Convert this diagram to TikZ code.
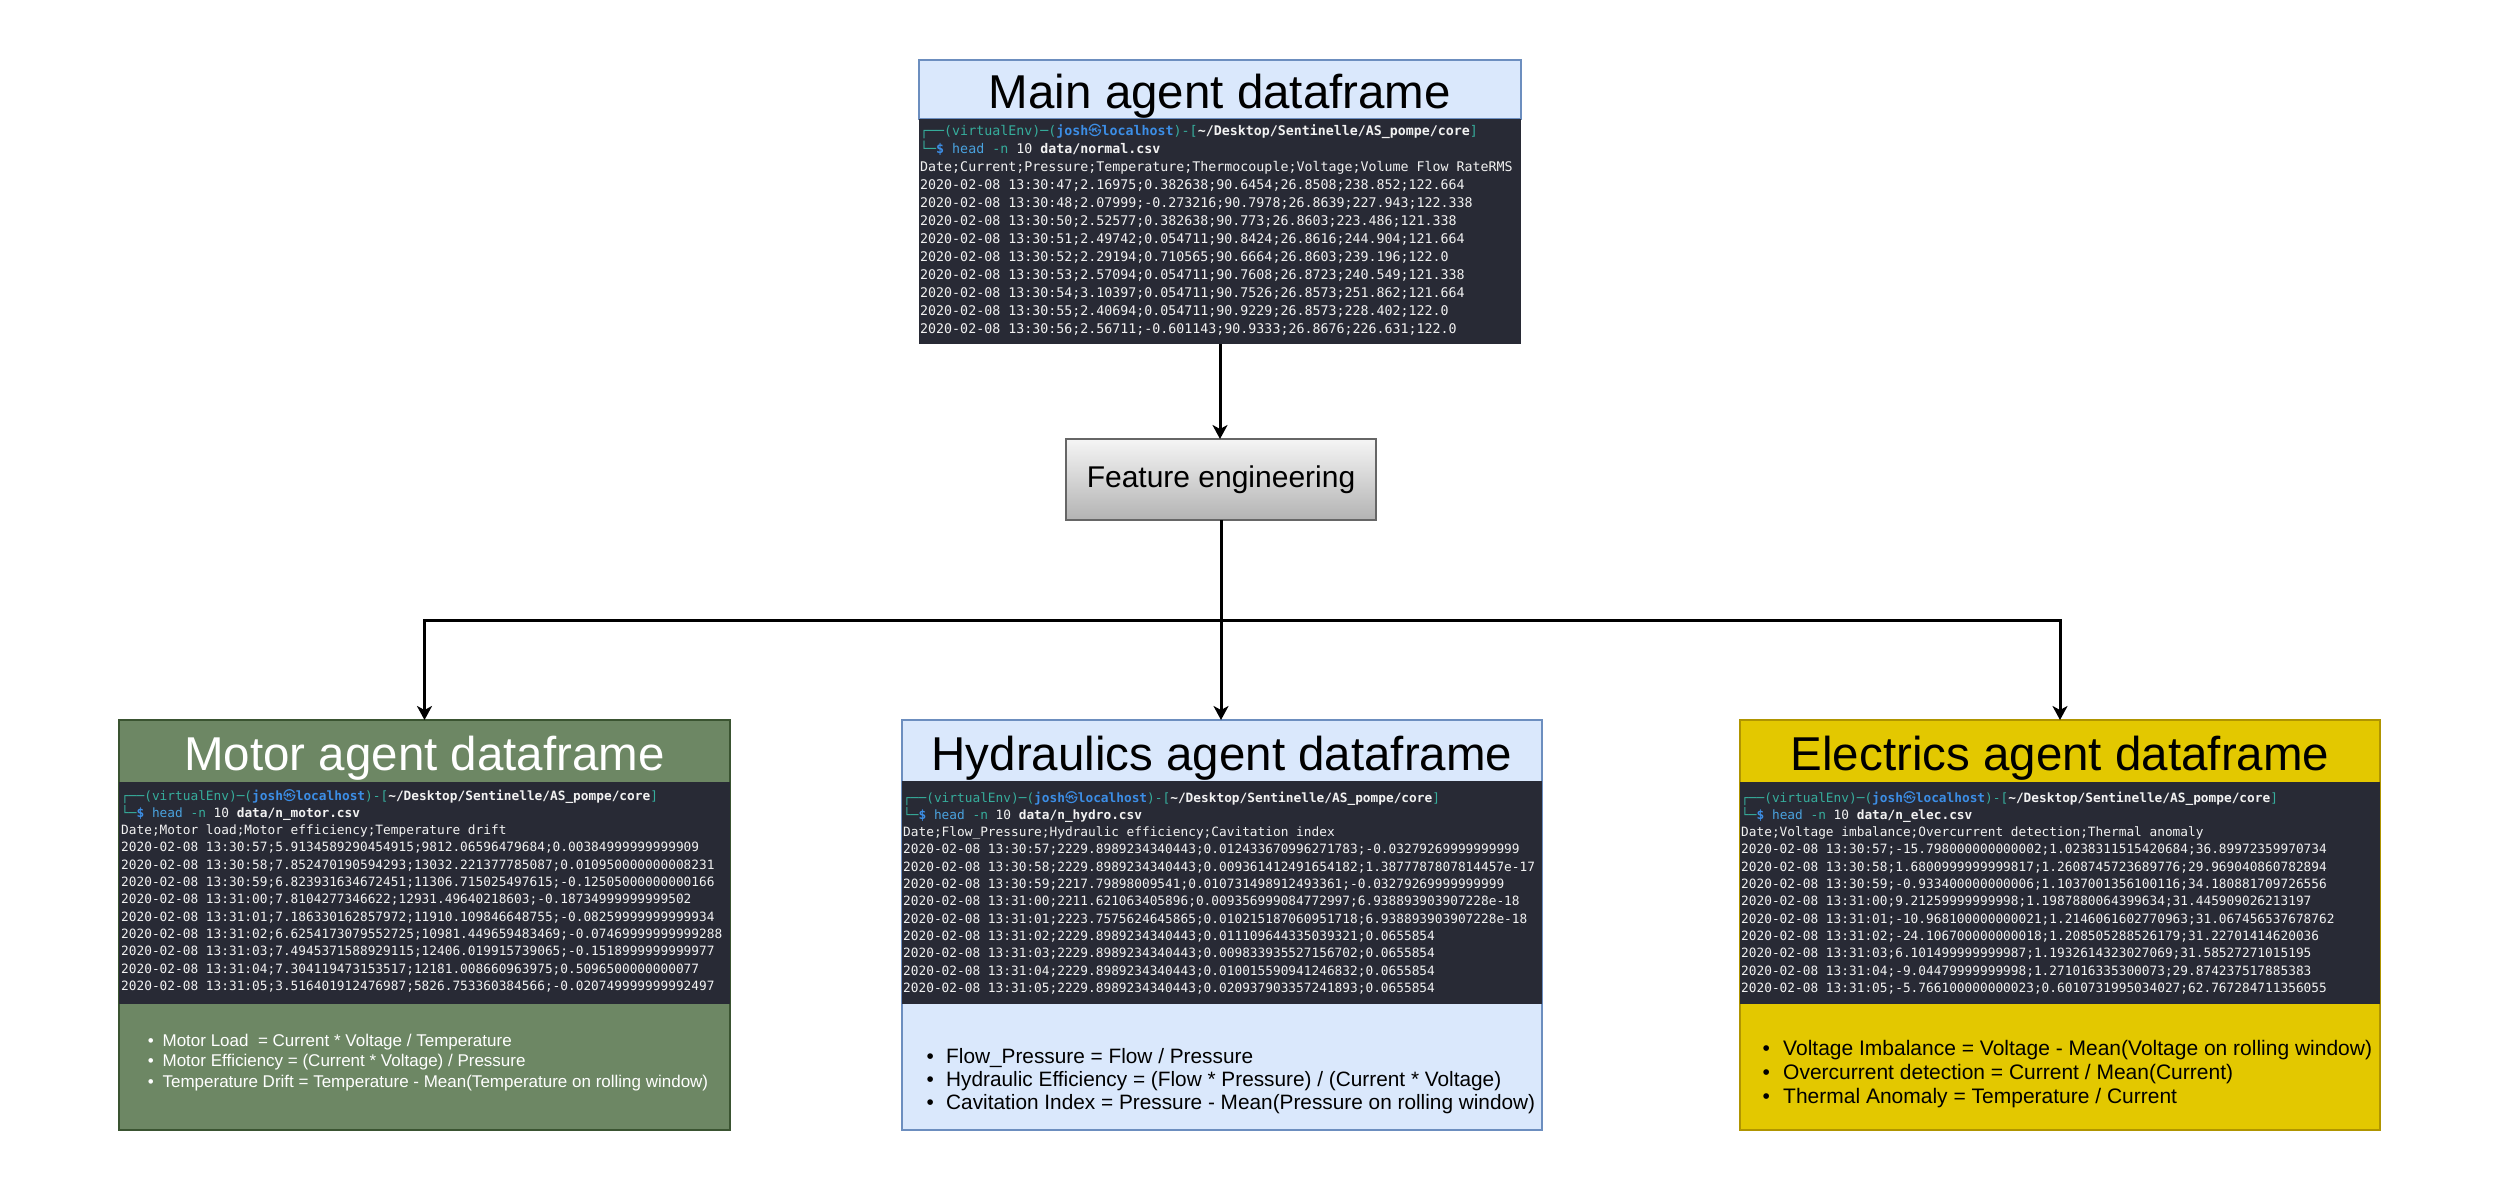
\documentclass[tikz,border=0pt]{standalone}
\usepackage{fontspec}
\setmainfont{Liberation Sans}
\setmonofont{DejaVu Sans Mono}
\newfontfamily\cjkfont{Noto Sans CJK KR}
\usetikzlibrary{arrows.meta}
\definecolor{bluefill}{HTML}{DAE8FC}
\definecolor{bluestroke}{HTML}{6C8EBF}
\definecolor{greenfill}{HTML}{6D8764}
\definecolor{greenstroke}{HTML}{3A5431}
\definecolor{yellowfill}{HTML}{E3C800}
\definecolor{yellowstroke}{HTML}{B09500}
\definecolor{termbg}{HTML}{282A35}
\definecolor{termfg}{HTML}{F2F2F2}
\definecolor{tteal}{HTML}{36AD9C}
\definecolor{tblue}{HTML}{3C8EE6}
\definecolor{tlblue}{HTML}{4AA3DF}
\definecolor{fetop}{HTML}{F5F5F5}
\definecolor{febot}{HTML}{B3B3B3}
\definecolor{festroke}{HTML}{666666}

\newcommand\promptlines[1]{%
\textcolor{tteal}{┌──(virtualEnv)─(}\textcolor{tblue}{\bfseries josh{\cjkfont\mdseries ㉿}localhost}\textcolor{tteal}{)-[}{\bfseries\textasciitilde/Desktop/Sentinelle/AS\_pompe/core}\textcolor{tteal}{]}\\
\textcolor{tteal}{└─}\textcolor{tblue}{\bfseries\$} \textcolor{tlblue}{head} \textcolor{tteal}{-n} 10 {\bfseries data/#1}}
\newcommand\bul[1]{\makebox[#1][l]{\textbullet}}

\begin{document}
\begin{tikzpicture}[x=1pt,y=-1pt,
  boxbase/.style={rectangle,inner sep=0pt,outer sep=0pt,anchor=north west,line width=1.5pt},
  termbox/.style={rectangle,inner sep=0pt,outer sep=0pt,anchor=north west,fill=termbg},
  termtext/.style={anchor=base west,inner sep=0pt,text=termfg,font=\ttfamily},
  titletext/.style={anchor=base,inner sep=0pt,font=\fontsize{47.5}{50}\selectfont},
  bullettext/.style={anchor=base west,inner sep=0pt},
  conn/.style={line width=3pt,-{Stealth[length=14pt,width=15pt,inset=4pt]}}]
\useasboundingbox[fill=white] (0,0) rectangle (2498,1192);

% Main agent dataframe
\node[boxbase,fill=bluefill,draw=bluestroke,minimum width=602pt,minimum height=59pt] (maintitle) at (919,60) {};
\node[titletext] (maintitletext) at (1220,108) {Main agent dataframe};
\node[termbox,minimum width=602pt,minimum height=225pt] (mainterm) at (919,119) {};
\node[termtext] (maintermtext) at (920,135) {\begin{minipage}[t]{700pt}\fontsize{13.3}{18}\selectfont\leavevmode
\promptlines{normal.csv}\\
Date;Current;Pressure;Temperature;Thermocouple;Voltage;Volume Flow RateRMS\\
2020-02-08 13:30:47;2.16975;0.382638;90.6454;26.8508;238.852;122.664\\
2020-02-08 13:30:48;2.07999;-0.273216;90.7978;26.8639;227.943;122.338\\
2020-02-08 13:30:50;2.52577;0.382638;90.773;26.8603;223.486;121.338\\
2020-02-08 13:30:51;2.49742;0.054711;90.8424;26.8616;244.904;121.664\\
2020-02-08 13:30:52;2.29194;0.710565;90.6664;26.8603;239.196;122.0\\
2020-02-08 13:30:53;2.57094;0.054711;90.7608;26.8723;240.549;121.338\\
2020-02-08 13:30:54;3.10397;0.054711;90.7526;26.8573;251.862;121.664\\
2020-02-08 13:30:55;2.40694;0.054711;90.9229;26.8573;228.402;122.0\\
2020-02-08 13:30:56;2.56711;-0.601143;90.9333;26.8676;226.631;122.0
\end{minipage}};

% Feature engineering
\node[rectangle,inner sep=0pt,outer sep=0pt,minimum width=310pt,minimum height=81pt,top color=fetop,bottom color=febot,draw=festroke,line width=1.5pt,font=\fontsize{30}{32}\selectfont] (fe) at (1221,479.5) {Feature engineering};

% Motor agent dataframe
\node[boxbase,fill=greenfill,draw=greenstroke,minimum width=611pt,minimum height=410pt] (motor) at (119,720) {};
\node[titletext,text=white] (motortitle) at (424.5,770) {Motor agent dataframe};
\node[termbox,minimum width=611pt,minimum height=222pt] (motorterm) at (119,782) {};
\node[termtext] (motortermtext) at (121,800) {\begin{minipage}[t]{700pt}\fontsize{12.8}{17.3}\selectfont\leavevmode
\promptlines{n\_motor.csv}\\
Date;Motor load;Motor efficiency;Temperature drift\\
2020-02-08 13:30:57;5.9134589290454915;9812.06596479684;0.00384999999999909\\
2020-02-08 13:30:58;7.852470190594293;13032.221377785087;0.010950000000008231\\
2020-02-08 13:30:59;6.823931634672451;11306.715025497615;-0.12505000000000166\\
2020-02-08 13:31:00;7.8104277346622;12931.49640218603;-0.18734999999999502\\
2020-02-08 13:31:01;7.186330162857972;11910.109846648755;-0.08259999999999934\\
2020-02-08 13:31:02;6.6254173079552725;10981.449659483469;-0.07469999999999288\\
2020-02-08 13:31:03;7.4945371588929115;12406.019915739065;-0.1518999999999977\\
2020-02-08 13:31:04;7.304119473153517;12181.008660963975;0.5096500000000077\\
2020-02-08 13:31:05;3.516401912476987;5826.753360384566;-0.020749999999992497
\end{minipage}};
\node[bullettext,text=white] (motorbullets) at (147.6,1046) {\begin{minipage}[t]{600pt}\fontsize{17}{20.5}\selectfont\leavevmode
\bul{14.8pt}Motor Load\ \ = Current * Voltage / Temperature\\
\bul{14.8pt}Motor Efficiency = (Current * Voltage) / Pressure\\
\bul{14.8pt}Temperature Drift = Temperature - Mean(Temperature on rolling window)
\end{minipage}};

% Hydraulics agent dataframe
\node[boxbase,fill=bluefill,draw=bluestroke,minimum width=640pt,minimum height=410pt] (hydro) at (902,720) {};
\node[titletext] (hydrotitle) at (1222,770) {Hydraulics agent dataframe};
\node[termbox,minimum width=640pt,minimum height=223pt] (hydroterm) at (902,781) {};
\node[termtext] (hydrotermtext) at (903,802) {\begin{minipage}[t]{700pt}\fontsize{12.8}{17.3}\selectfont\leavevmode
\promptlines{n\_hydro.csv}\\
Date;Flow\_Pressure;Hydraulic efficiency;Cavitation index\\
2020-02-08 13:30:57;2229.8989234340443;0.012433670996271783;-0.03279269999999999\\
2020-02-08 13:30:58;2229.8989234340443;0.009361412491654182;1.3877787807814457e-17\\
2020-02-08 13:30:59;2217.79898009541;0.010731498912493361;-0.03279269999999999\\
2020-02-08 13:31:00;2211.621063405896;0.009356999084772997;6.938893903907228e-18\\
2020-02-08 13:31:01;2223.7575624645865;0.010215187060951718;6.938893903907228e-18\\
2020-02-08 13:31:02;2229.8989234340443;0.011109644335039321;0.0655854\\
2020-02-08 13:31:03;2229.8989234340443;0.009833935527156702;0.0655854\\
2020-02-08 13:31:04;2229.8989234340443;0.010015590941246832;0.0655854\\
2020-02-08 13:31:05;2229.8989234340443;0.020937903357241893;0.0655854
\end{minipage}};
\node[bullettext] (hydrobullets) at (926.4,1063) {\begin{minipage}[t]{620pt}\fontsize{20.8}{23.2}\selectfont\leavevmode
\bul{19.6pt}Flow\_Pressure = Flow / Pressure\\
\bul{19.6pt}Hydraulic Efficiency = (Flow * Pressure) / (Current * Voltage)\\
\bul{19.6pt}Cavitation Index = Pressure - Mean(Pressure on rolling window)
\end{minipage}};

% Electrics agent dataframe
\node[boxbase,fill=yellowfill,draw=yellowstroke,minimum width=640pt,minimum height=410pt] (elec) at (1740,720) {};
\node[titletext] (electitle) at (2060,770) {Electrics agent dataframe};
\node[termbox,minimum width=640pt,minimum height=222pt] (electerm) at (1740,782) {};
\node[termtext] (electermtext) at (1741,802) {\begin{minipage}[t]{700pt}\fontsize{12.8}{17.3}\selectfont\leavevmode
\promptlines{n\_elec.csv}\\
Date;Voltage imbalance;Overcurrent detection;Thermal anomaly\\
2020-02-08 13:30:57;-15.798000000000002;1.0238311515420684;36.89972359970734\\
2020-02-08 13:30:58;1.6800999999999817;1.2608745723689776;29.969040860782894\\
2020-02-08 13:30:59;-0.933400000000006;1.1037001356100116;34.180881709726556\\
2020-02-08 13:31:00;9.21259999999998;1.1987880064399634;31.445909026213197\\
2020-02-08 13:31:01;-10.968100000000021;1.2146061602770963;31.067456537678762\\
2020-02-08 13:31:02;-24.106700000000018;1.208505288526179;31.22701414620036\\
2020-02-08 13:31:03;6.101499999999987;1.1932614323027069;31.58527271015195\\
2020-02-08 13:31:04;-9.04479999999998;1.271016335300073;29.874237517885383\\
2020-02-08 13:31:05;-5.766100000000023;0.6010731995034027;62.767284711356055
\end{minipage}};
\node[bullettext] (elecbullets) at (1762.3,1055.5) {\begin{minipage}[t]{650pt}\fontsize{21}{24}\selectfont\leavevmode
\bul{20.7pt}Voltage Imbalance = Voltage - Mean(Voltage on rolling window)\\
\bul{20.7pt}Overcurrent detection = Current / Mean(Current)\\
\bul{20.7pt}Thermal Anomaly = Temperature / Current
\end{minipage}};

% Connectors
\coordinate (junc) at (1221,620.7);
\draw[conn] (mainterm.south) -- (mainterm.south |- fe.north);
\draw[conn] (fe.south) -- (fe.south |- hydro.north);
\draw[conn] (fe.south) -- (junc) -| (motor.north);
\draw[conn] (junc) -| (elec.north);
\end{tikzpicture}
\end{document}
